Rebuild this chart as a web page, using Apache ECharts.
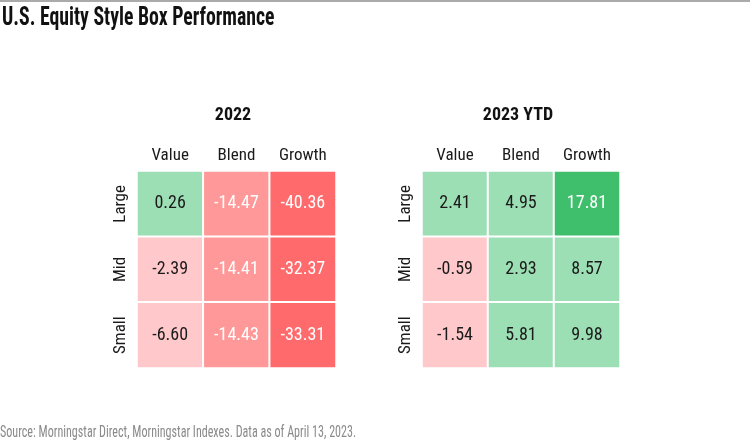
<!DOCTYPE html>
<html><head><meta charset="utf-8">
<script src="https://cdn.jsdelivr.net/npm/echarts@6/dist/echarts.min.js"></script>
<style>html,body{margin:0;padding:0;background:#fff}#c{width:750px;height:447px}</style>
</head><body><div id="c"></div>
<script>
const columns = ['Value', 'Blend', 'Growth'];
const rows = ['Large', 'Mid', 'Small'];
const values2022 = [
  [0.26, -14.47, -40.36],
  [-2.39, -14.41, -32.37],
  [-6.60, -14.43, -33.31]
];
const values2023 = [
  [2.41, 4.95, 17.81],
  [-0.59, 2.93, 8.57],
  [-1.54, 5.81, 9.98]
];
const FONT = '"Liberation Sans Narrow", "Roboto Condensed", Roboto, sans-serif';

function toData(m) {
  const out = [];
  m.forEach((r, ri) => r.forEach((v, ci) => {
    const white = v <= -10 || v >= 10;
    out.push({ value: [ci, ri, v], label: { color: white ? '#ffffff' : '#1a1a1a' } });
  }));
  return out;
}

const chart = echarts.init(document.getElementById('c'), null, { renderer: 'canvas' });
const axisX = (gi) => ({
  type: 'category', data: columns, gridIndex: gi, position: 'top',
  axisLine: { show: false }, axisTick: { show: false }, splitLine: { show: false },
  axisLabel: { interval: 0, fontFamily: FONT, fontSize: 17, color: '#1a1a1a', margin: 7 }
});
const axisY = (gi) => ({
  type: 'category', data: rows, gridIndex: gi, inverse: true,
  axisLine: { show: false }, axisTick: { show: false }, splitLine: { show: false },
  axisLabel: { interval: 0, fontFamily: FONT, fontSize: 17, color: '#1a1a1a', rotate: 90, margin: 8 }
});
const seriesOf = (gi, m) => ({
  type: 'heatmap', xAxisIndex: gi, yAxisIndex: gi, data: toData(m),
  label: { show: true, fontFamily: FONT, fontSize: 18, formatter: p => p.value[2].toFixed(2) },
  itemStyle: { borderColor: '#ffffff', borderWidth: 2 },
  emphasis: { disabled: true }
});

chart.setOption({
  animation: false,
  backgroundColor: '#ffffff',
  title: [
    { text: '2022', left: 228, top: 101, textAlign: 'center',
      textStyle: { fontFamily: FONT, fontSize: 18, fontWeight: 'bold', color: '#111' } },
    { text: '2023 YTD', left: 513, top: 101, textAlign: 'center',
      textStyle: { fontFamily: FONT, fontSize: 18, fontWeight: 'bold', color: '#111' } }
  ],
  graphic: [
    { type: 'rect', shape: { x: 0, y: 0, width: 750, height: 2 }, style: { fill: '#aaaaaa' } },
    { type: 'text', x: 2, y: 5, scaleX: 0.76,
      style: { text: 'U.S. Equity Style Box Performance', fill: '#111',
        font: 'bold 26px ' + FONT, textVerticalAlign: 'top' } },
    { type: 'text', x: 0, y: 424, scaleX: 0.71,
      style: { text: 'Source: Morningstar Direct, Morningstar Indexes. Data as of April 13, 2023.', fill: '#8a8a8a',
        font: '17px ' + FONT, textVerticalAlign: 'top' } }
  ],
  grid: [
    { left: 137, top: 171, width: 199, height: 197 },
    { left: 422, top: 171, width: 198, height: 197 }
  ],
  xAxis: [axisX(0), axisX(1)],
  yAxis: [axisY(0), axisY(1)],
  visualMap: {
    show: false, type: 'piecewise', dimension: 2, seriesIndex: [0, 1],
    pieces: [
      { lt: -20, color: '#ff6b6c' },
      { gte: -20, lt: -10, color: '#ff9898' },
      { gte: -10, lt: 0, color: '#ffc9cb' },
      { gte: 0, lt: 10, color: '#9ddfb5' },
      { gte: 10, color: '#3fbf6b' }
    ]
  },
  series: [seriesOf(0, values2022), seriesOf(1, values2023)]
});
</script></body></html>
